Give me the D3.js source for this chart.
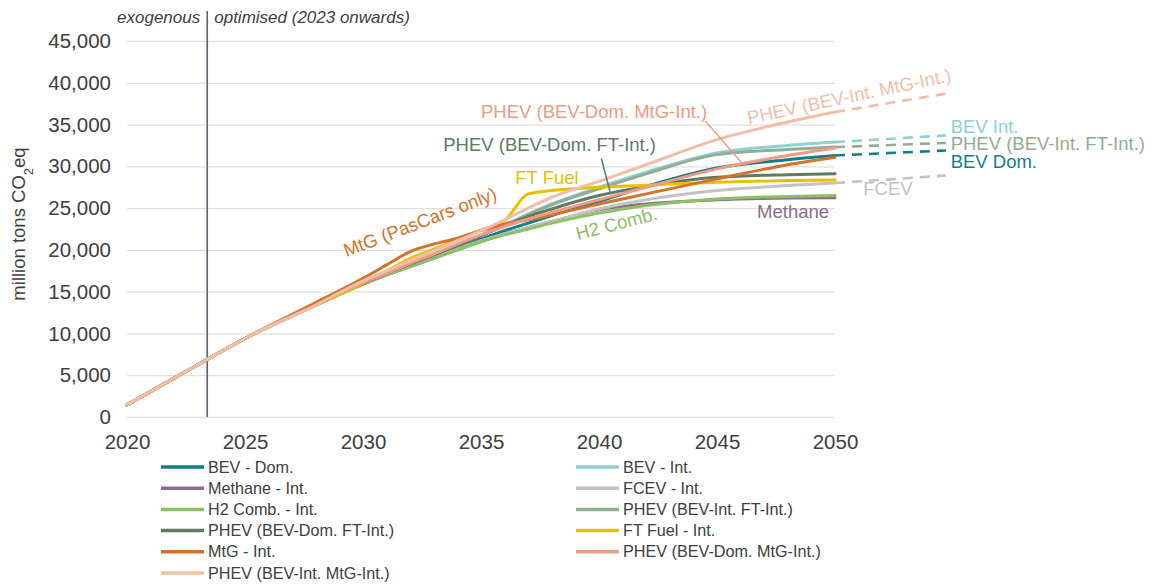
<!DOCTYPE html>
<html>
<head>
<meta charset="utf-8">
<script src="https://cdn.jsdelivr.net/npm/d3@7"></script>
<style>
  html, body { margin: 0; padding: 0; background: #fff; }
  svg { display: block; font-family: "Liberation Sans", Arial, sans-serif; }
</style>
</head>
<body>
<svg id="chart" width="1157" height="586"></svg>
<script>
// Cumulative emissions per powertrain scenario (million tons CO2eq)
const years = [2020, 2023, 2025, 2028, 2030, 2031, 2032, 2033, 2034, 2035, 2036, 2037, 2038, 2040, 2042, 2045, 2048, 2050];

const bevDom      = [1450, 6250, 9400, 13400, 15900, 17000, 18100, 19200, 20300, 21300, 22300, 23200, 24100, 25800, 27600, 29800, 30800, 31300];
const bevInt      = [1450, 6250, 9400, 13400, 16000, 17200, 18400, 19500, 20600, 21800, 23000, 24300, 25500, 27500, 29300, 31600, 32500, 32900];
const methaneInt  = [1450, 6250, 9400, 13400, 15900, 17000, 18000, 19000, 20000, 21000, 21900, 22700, 23400, 24800, 25500, 26000, 26200, 26250];
const fcevInt     = [1450, 6250, 9400, 13400, 15900, 17000, 18100, 19100, 20100, 21100, 21900, 22700, 23400, 24900, 26000, 27100, 27700, 28000];
const h2CombInt   = [1450, 6250, 9400, 13400, 15900, 17000, 18000, 19000, 20000, 21000, 21800, 22500, 23200, 24400, 25300, 26100, 26400, 26500];
const phevIntFt   = [1450, 6250, 9400, 13400, 16000, 17200, 18300, 19400, 20500, 21700, 22900, 24200, 25400, 27300, 29100, 31400, 32000, 32300];
const phevDomFt   = [1450, 6250, 9400, 13400, 16000, 17200, 18300, 19400, 20500, 21700, 22900, 24000, 24900, 26500, 27600, 28700, 29000, 29100];
const ftFuelInt   = [1450, 6250, 9400, 13400, 16000, 17500, 19000, 20100, 21300, 22400, 23500, 26700, 27100, 27500, 27750, 28100, 28300, 28350];
const mtgInt      = [1450, 6250, 9400, 13700, 16600, 18200, 19800, 20700, 21400, 22300, 23100, 23600, 24200, 25500, 26700, 28500, 30200, 31100];
const phevDomMtg  = [1450, 6250, 9400, 13400, 16100, 17200, 18400, 19500, 20700, 21800, 22800, 23700, 24500, 26000, 27500, 29700, 31300, 32200];
const phevIntMtg  = [1450, 6250, 9400, 13400, 16300, 17500, 18700, 19900, 21100, 22300, 23600, 25000, 26300, 28200, 30200, 33200, 35300, 36500];

// Dashed continuation beyond 2050 for selected scenarios
const tailYear = 2054.7;
const tailNames  = ["PHEV (BEV-Int. MtG-Int.)", "BEV - Int.", "PHEV (BEV-Int. FT-Int.)", "BEV - Dom.", "FCEV - Int."];
const tailValues = [38700, 33700, 32800, 31900, 28900];

const seriesNames = ["BEV - Dom.", "BEV - Int.", "Methane - Int.", "FCEV - Int.", "H2 Comb. - Int.",
  "PHEV (BEV-Int. FT-Int.)", "PHEV (BEV-Dom. FT-Int.)", "FT Fuel - Int.", "MtG - Int.",
  "PHEV (BEV-Dom. MtG-Int.)", "PHEV (BEV-Int. MtG-Int.)"];
const seriesValues = [bevDom, bevInt, methaneInt, fcevInt, h2CombInt, phevIntFt, phevDomFt, ftFuelInt, mtgInt, phevDomMtg, phevIntMtg];
const seriesColors = ["#127f8a", "#8ed1d1", "#8b6d8c", "#c3c3c3", "#8cc063", "#93ad95", "#5d7c63", "#e9c000", "#d7722b", "#f19a86", "#f3bea8"];

// Legend is laid out in two columns, row by row
const legendOrder = ["BEV - Dom.", "BEV - Int.", "Methane - Int.", "FCEV - Int.", "H2 Comb. - Int.",
  "PHEV (BEV-Int. FT-Int.)", "PHEV (BEV-Dom. FT-Int.)", "FT Fuel - Int.", "MtG - Int.",
  "PHEV (BEV-Dom. MtG-Int.)", "PHEV (BEV-Int. MtG-Int.)"];

const yTicks = [0, 5000, 10000, 15000, 20000, 25000, 30000, 35000, 40000, 45000];
const xTicks = [2020, 2025, 2030, 2035, 2040, 2045, 2050];
const boundaryYear = 2023.4;

// In-plot labels: text, colour key, anchor year, anchor value, rotation
const labelTexts  = ["PHEV (BEV-Dom. MtG-Int.)", "PHEV (BEV-Dom. FT-Int.)", "FT Fuel", "Methane", "FCEV",
  "BEV Int.", "PHEV (BEV-Int. FT-Int.)", "BEV Dom.", "H2 Comb.", "MtG (PasCars only)", "PHEV (BEV-Int. MtG-Int.)"];
const labelSeries = ["PHEV (BEV-Dom. MtG-Int.)", "PHEV (BEV-Dom. FT-Int.)", "FT Fuel - Int.", "Methane - Int.", "FCEV - Int.",
  "BEV - Int.", "PHEV (BEV-Int. FT-Int.)", "BEV - Dom.", "H2 Comb. - Int.", "MtG - Int.", "PHEV (BEV-Int. MtG-Int.)"];
const labelYears  = [2035.0, 2033.4, 2036.45, 2046.7, 2051.2, 2054.9, 2054.9, 2054.9, 2039.1, 2029.3, 2046.35];
const labelValues = [35800, 31850, 27900, 23850, 26600, 34000, 31950, 29820, 21170, 19140, 35040];
const labelAngles = [0, 0, 0, 0, 0, 0, 0, 0, -14.5, -21, -12];

// Leader lines from labels to their curves
const leaderSeries = ["PHEV (BEV-Dom. FT-Int.)", "PHEV (BEV-Dom. MtG-Int.)"];
const leaderFrom   = [[2040.1, 30940], [2044.5, 35440]];
const leaderTo     = [[2040.47, 26950], [2046.1, 30260]];

const colorOf = d3.scaleOrdinal().domain(seriesNames).range(seriesColors);

const svg = d3.select("#chart");
const plotLeft = 127, plotRight = 835, plotTop = 41, plotBottom = 417;

const x = d3.scaleLinear().domain([2020, 2050]).range([plotLeft, plotRight]);
const y = d3.scaleLinear().domain([0, 45000]).range([plotBottom, plotTop]);

// Gridlines and y tick labels
const yAxis = svg.append("g")
  .attr("transform", `translate(${plotLeft},0)`)
  .call(d3.axisLeft(y).tickValues(yTicks).tickFormat(d3.format(",")).tickSize(-(plotRight - plotLeft)).tickPadding(16));
yAxis.select(".domain").remove();
yAxis.selectAll(".tick line").attr("stroke", "#e4e0dc").attr("stroke-width", 1.3);
yAxis.selectAll(".tick text").attr("fill", "#404040").style("font-size", "20.5px")
  .style("font-family", "'Liberation Sans', Arial, sans-serif");

// X tick labels
const xAxis = svg.append("g")
  .attr("transform", `translate(0,${plotBottom})`)
  .call(d3.axisBottom(x).tickValues(xTicks).tickFormat(d3.format("d")).tickSize(0).tickPadding(17));
xAxis.select(".domain").remove();
xAxis.selectAll(".tick text").attr("fill", "#404040").style("font-size", "20.5px")
  .style("font-family", "'Liberation Sans', Arial, sans-serif");

// Y axis title with subscript
const yTitle = svg.append("text")
  .attr("transform", `translate(25,224) rotate(-90)`)
  .attr("text-anchor", "middle")
  .attr("fill", "#404040")
  .style("font-size", "18.5px");
yTitle.append("tspan").text("million tons CO");
yTitle.append("tspan").attr("baseline-shift", "sub").style("font-size", "13px").text("2");
yTitle.append("tspan").text("eq");

// Boundary between exogenous and optimised periods
svg.append("line")
  .attr("x1", x(boundaryYear)).attr("x2", x(boundaryYear))
  .attr("y1", 11).attr("y2", plotBottom)
  .attr("stroke", "#59626c").attr("stroke-width", 1.6);
svg.append("text")
  .attr("x", x(boundaryYear) - 7).attr("y", 23)
  .attr("text-anchor", "end").attr("fill", "#404040")
  .style("font-size", "17px").style("font-style", "italic")
  .text("exogenous");
svg.append("text")
  .attr("x", x(boundaryYear) + 7).attr("y", 23)
  .attr("fill", "#404040")
  .style("font-size", "17px").style("font-style", "italic")
  .text("optimised (2023 onwards)");

// Scenario curves
const line = d3.line()
  .x(d => x(d[0]))
  .y(d => y(d[1]))
  .curve(d3.curveMonotoneX);

const series = seriesNames.map((name, i) => ({
  name,
  points: years.map((yr, j) => [yr, seriesValues[i][j]])
}));

// Dashed tails
tailNames.forEach((name, i) => {
  const vals = seriesValues[seriesNames.indexOf(name)];
  svg.append("path")
    .datum([[2050, vals[vals.length - 1]], [tailYear, tailValues[i]]])
    .attr("d", d3.line().x(d => x(d[0])).y(d => y(d[1])))
    .attr("fill", "none")
    .attr("stroke", colorOf(name))
    .attr("stroke-width", 2.6)
    .attr("stroke-dasharray", "10,7");
});

svg.append("g").selectAll("path")
  .data(series)
  .join("path")
  .attr("d", d => line(d.points))
  .attr("fill", "none")
  .attr("stroke", d => colorOf(d.name))
  .attr("stroke-width", 3)
  .attr("stroke-linejoin", "round")
  .attr("stroke-linecap", "round");

// Leader lines
leaderSeries.forEach((name, i) => {
  svg.append("line")
    .attr("x1", x(leaderFrom[i][0])).attr("y1", y(leaderFrom[i][1]))
    .attr("x2", x(leaderTo[i][0])).attr("y2", y(leaderTo[i][1]))
    .attr("stroke", colorOf(name)).attr("stroke-width", 1.5);
});

// In-plot labels
labelTexts.forEach((t, i) => {
  const px = x(labelYears[i]), py = y(labelValues[i]);
  svg.append("text")
    .attr("transform", `translate(${px},${py}) rotate(${labelAngles[i]})`)
    .attr("fill", colorOf(labelSeries[i]))
    .style("font-size", "18.5px")
    .text(t);
});

// Legend
const legend = svg.append("g");
const legendColX = [161, 576];
legendOrder.forEach((name, i) => {
  const col = i % 2, row = Math.floor(i / 2);
  const gx = legendColX[col], gy = 467 + row * 21.2;
  legend.append("line")
    .attr("x1", gx).attr("x2", gx + 43)
    .attr("y1", gy).attr("y2", gy)
    .attr("stroke", colorOf(name)).attr("stroke-width", 3.5);
  legend.append("text")
    .attr("x", gx + 47).attr("y", gy)
    .attr("dy", "0.35em")
    .attr("fill", "#404040")
    .style("font-size", "16.2px")
    .text(name);
});
</script>
</body>
</html>
